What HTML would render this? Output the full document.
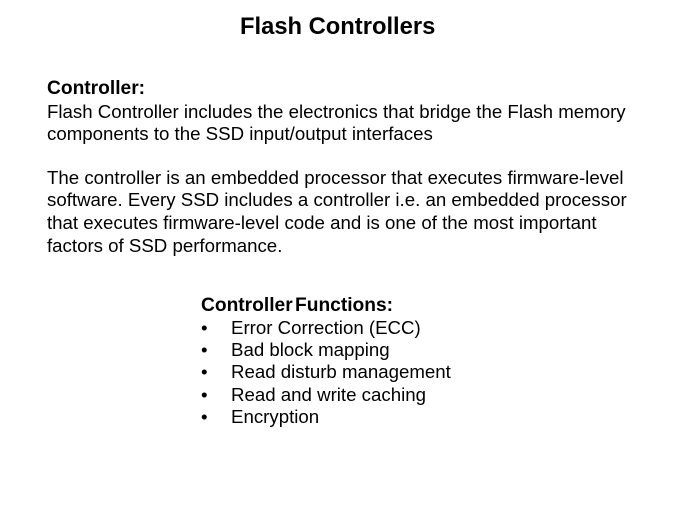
<!DOCTYPE html>
<html>
<head>
<meta charset="utf-8">
<style>
html,body{margin:0;padding:0;background:#fff;}
#s{position:relative;width:675px;height:506px;overflow:hidden;font-family:"Liberation Sans",sans-serif;color:#000;}
.t{position:absolute;white-space:nowrap;font-size:18.67px;line-height:22px;}
.b{font-weight:bold;font-size:19.2px;}
</style>
</head>
<body>
<div id="s">
<div class="t b" style="left:240px;top:13px;font-size:23.76px;line-height:27px;">Flash Controllers</div>
<div class="t b" style="left:47px;top:78px;">Controller:</div>
<div class="t" style="left:47px;top:101px;">Flash Controller includes the electronics that bridge the Flash memory</div>
<div class="t" style="left:47px;top:123px;">components to the SSD input/output interfaces</div>
<div class="t" style="left:47px;top:167px;">The controller is an embedded processor that executes firmware-level</div>
<div class="t" style="left:47px;top:189px;">software. Every SSD includes a controller i.e. an embedded processor</div>
<div class="t" style="left:47px;top:212px;">that executes firmware-level code and is one of the most important</div>
<div class="t" style="left:47px;top:235px;">factors of SSD performance.</div>
<div class="t b" style="left:201px;top:295px;word-spacing:-3px;">Controller Functions:</div>
<div class="t" style="left:201px;top:317px;">•</div><div class="t" style="left:231px;top:317px;">Error Correction (ECC)</div>
<div class="t" style="left:201px;top:339px;">•</div><div class="t" style="left:231px;top:339px;">Bad block mapping</div>
<div class="t" style="left:201px;top:361px;">•</div><div class="t" style="left:231px;top:361px;">Read disturb management</div>
<div class="t" style="left:201px;top:384px;">•</div><div class="t" style="left:231px;top:384px;">Read and write caching</div>
<div class="t" style="left:201px;top:406px;">•</div><div class="t" style="left:231px;top:406px;">Encryption</div>
</div>
</body>
</html>
